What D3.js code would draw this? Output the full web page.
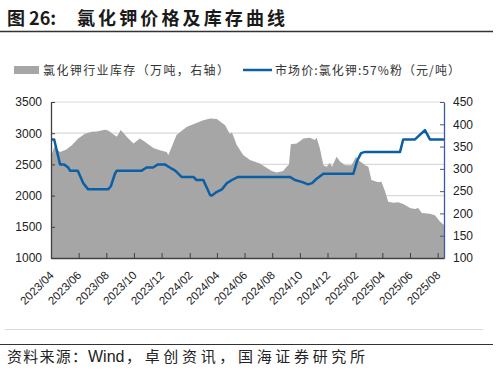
<!DOCTYPE html>
<html>
<head>
<meta charset="utf-8">
<script src="https://cdn.jsdelivr.net/npm/d3@7"></script>
<style>
  body { margin: 0; background: #fff; }
  svg { display: block; }
  text { font-family: "Liberation Sans", Arial, sans-serif; }
  .cjk { font-family: "Noto Sans CJK SC", sans-serif; }
</style>
</head>
<body>
<div id="chart"></div>
<script>
// 市场价:氯化钾:57%粉 (元/吨), left axis
const priceDates = ['2023-04-01','2023-04-08','2023-04-21','2023-04-30','2023-05-09','2023-05-13','2023-05-30','2023-06-02','2023-06-11','2023-06-22',
  '2023-08-05','2023-08-11','2023-08-20','2023-08-24','2023-10-18','2023-10-29','2023-11-12','2023-11-23','2023-12-08','2023-12-19',
  '2023-12-31','2024-01-14','2024-02-09','2024-02-16','2024-03-02','2024-03-17','2024-03-21','2024-04-01','2024-04-12','2024-04-23',
  '2024-05-04','2024-05-18','2024-09-09','2024-09-20','2024-10-05','2024-10-19','2024-10-28','2024-11-07','2024-11-22','2025-01-27',
  '2025-02-04','2025-02-13','2025-02-22','2025-05-10','2025-05-17','2025-06-12','2025-07-04','2025-07-15','2025-08-15'];
const priceValues = [2900,2900,2500,2500,2450,2400,2400,2350,2200,2100,
  2100,2150,2350,2400,2400,2450,2450,2500,2500,2450,
  2400,2300,2300,2250,2250,2010,2000,2060,2100,2200,
  2250,2300,2300,2250,2220,2180,2200,2270,2350,2350,
  2550,2680,2700,2700,2900,2900,3050,2900,2900];

// 氯化钾行业库存 (万吨), right axis
const stockDates = ['2023-04-01','2023-04-08','2023-04-21','2023-05-04','2023-05-17','2023-05-31','2023-06-15','2023-06-30','2023-07-11','2023-07-29',
  '2023-08-05','2023-08-24','2023-09-02','2023-09-15','2023-09-30','2023-10-14','2023-10-25','2023-11-13','2023-11-27','2023-12-12',
  '2023-12-16','2024-01-03','2024-01-25','2024-02-13','2024-03-02','2024-03-17','2024-04-01','2024-04-19','2024-04-26','2024-04-30',
  '2024-05-04','2024-05-15','2024-05-29','2024-06-13','2024-07-05','2024-07-16','2024-07-31','2024-08-11','2024-08-25','2024-09-02',
  '2024-09-07','2024-09-11','2024-09-24','2024-10-09','2024-10-23','2024-11-03','2024-11-07','2024-11-14','2024-11-22','2024-11-29',
  '2024-12-06','2024-12-11','2024-12-21','2024-12-29','2025-01-09','2025-01-23','2025-02-02','2025-02-07','2025-02-22','2025-03-01',
  '2025-03-08','2025-03-23','2025-03-30','2025-04-07','2025-04-14','2025-04-25','2025-05-06','2025-05-17','2025-06-01','2025-06-12',
  '2025-06-19','2025-06-27','2025-07-15','2025-07-26','2025-08-06','2025-08-15'];
const stockValues = [327,349,338,343,353,368,379,383,384,388,
  386,372,387,372,357,368,361,347,342,338,
  331,376,394,402,409,413,412,398,385,378,
  382,353,331,320,312,305,295,292,295,305,
  310,355,357,368,370,365,370,346,308,305,
  313,305,327,316,308,308,327,320,308,305,
  275,270,271,249,226,224,225,221,212,210,
  212,201,199,196,182,174];

const xTickLabels = ['2023/04','2023/06','2023/08','2023/10','2023/12','2024/02','2024/04','2024/06','2024/08','2024/10','2024/12','2025/02','2025/04','2025/06','2025/08'];
const leftTicks = [1000,1500,2000,2500,3000,3500];
const rightTicks = [100,150,200,250,300,350,400,450];

const W = 498, H = 372;
const plot = { left: 51, right: 444, top: 102, bottom: 258 };

const parseDay = d3.timeParse('%Y-%m-%d');
const parseMonth = d3.timeParse('%Y/%m');

const svg = d3.select('#chart').append('svg')
  .attr('width', W).attr('height', H);

const x = d3.scaleTime()
  .domain([parseDay('2023-04-01'), parseDay('2025-08-15')])
  .range([plot.left, plot.right]);
const yL = d3.scaleLinear().domain([1000, 3500]).range([plot.bottom, plot.top]);
const yR = d3.scaleLinear().domain([100, 450]).range([plot.bottom, plot.top]);

// 标题
svg.append('text')
  .attr('x', 7).attr('y', 25)
  .style('font-size', '18px').style('font-weight', 'bold').attr('fill', '#1a1a1a')
  .text('图 26:').attr('class', 'cjk');
svg.append('text').attr('class', 'cjk')
  .attr('x', 77).attr('y', 25)
  .style('font-size', '18px').style('font-weight', 'bold').attr('fill', '#1a1a1a')
  .attr('textLength', 208).attr('lengthAdjust', 'spacing')
  .text('氯化钾价格及库存曲线');
svg.append('line').attr('x1', 0).attr('x2', 493).attr('y1', 31.5).attr('y2', 31.5)
  .attr('stroke', '#333').attr('stroke-width', 1.3);

// 图例
svg.append('rect').attr('x', 14).attr('y', 66).attr('width', 25).attr('height', 8).attr('fill', '#a6a6a6');
svg.append('text').attr('class', 'cjk').attr('x', 43).attr('y', 74.5)
  .style('font-size', '12px').attr('fill', '#333')
  .attr('textLength', 186).attr('lengthAdjust', 'spacing')
  .text('氯化钾行业库存（万吨，右轴）');
svg.append('line').attr('x1', 243).attr('x2', 272).attr('y1', 70).attr('y2', 70)
  .attr('stroke', '#0b5fa5').attr('stroke-width', 2.5);
svg.append('text').attr('class', 'cjk').attr('x', 275).attr('y', 74.5)
  .style('font-size', '12px').attr('fill', '#333')
  .attr('textLength', 185).attr('lengthAdjust', 'spacing')
  .text('市场价:氯化钾:57%粉（元/吨）');

// 网格线
svg.append('g').selectAll('line')
  .data(leftTicks.slice(1))
  .enter().append('line')
  .attr('x1', plot.left).attr('x2', plot.right)
  .attr('y1', d => yL(d)).attr('y2', d => yL(d))
  .attr('stroke', '#d9d9d9').attr('stroke-width', 1.2);

// 库存面积
const stock = stockDates.map((d, i) => ({ date: parseDay(d), v: stockValues[i] }));
svg.append('path').datum(stock)
  .attr('fill', '#a6a6a6')
  .attr('d', d3.area().x(d => x(d.date)).y0(plot.bottom).y1(d => yR(d.v)));

// 价格线
const price = priceDates.map((d, i) => ({ date: parseDay(d), v: priceValues[i] }));
svg.append('path').datum(price)
  .attr('fill', 'none').attr('stroke', '#0b5fa5').attr('stroke-width', 2.5)
  .attr('stroke-linejoin', 'round')
  .attr('d', d3.line().x(d => x(d.date)).y(d => yL(d.v)));

// 左轴
const gL = svg.append('g').attr('transform', `translate(${plot.left},0)`)
  .call(d3.axisLeft(yL).tickValues(leftTicks).tickFormat(d3.format('d'))
    .tickSizeInner(-4).tickSizeOuter(0).tickPadding(9));
gL.select('.domain').attr('stroke', '#404040').attr('stroke-width', 1.3);
gL.selectAll('.tick line').attr('stroke', '#404040');
gL.selectAll('text').style('font-size', '12px').attr('fill', '#222')
  .attr('font-family', '"Liberation Sans", Arial, sans-serif');

// 右轴
const gR = svg.append('g').attr('transform', `translate(${plot.right},0)`)
  .call(d3.axisRight(yR).tickValues(rightTicks).tickFormat(d3.format('d'))
    .tickSizeInner(-4).tickSizeOuter(0).tickPadding(9));
gR.select('.domain').attr('stroke', '#3d5a99').attr('stroke-width', 1.3);
gR.selectAll('.tick line').attr('stroke', '#3d5a99');
gR.selectAll('text').style('font-size', '12px').attr('fill', '#222')
  .attr('font-family', '"Liberation Sans", Arial, sans-serif');

// 横轴
const tickDates = xTickLabels.map(parseMonth);
const gX = svg.append('g').attr('transform', `translate(0,${plot.bottom})`)
  .call(d3.axisBottom(x).tickValues(tickDates).tickSizeInner(-5).tickSizeOuter(0)
    .tickFormat((d, i) => xTickLabels[i]));
gX.select('.domain').attr('stroke', '#404040').attr('stroke-width', 1.3);
gX.selectAll('.tick line').attr('stroke', '#404040');
gX.selectAll('text')
  .style('font-size', '11.5px').attr('fill', '#222')
  .attr('font-family', '"Liberation Sans", Arial, sans-serif')
  .attr('text-anchor', 'end')
  .attr('dy', null).attr('y', 0)
  .attr('transform', 'translate(3,18) rotate(-45)');

// 底部
svg.append('line').attr('x1', 5).attr('x2', 483).attr('y1', 329.5).attr('y2', 329.5)
  .attr('stroke', '#d9d9d9').attr('stroke-width', 1);
svg.append('line').attr('x1', 0).attr('x2', 493).attr('y1', 344.5).attr('y2', 344.5)
  .attr('stroke', '#333').attr('stroke-width', 1.2);
const src = svg.append('g').style('font-size', '15px').attr('fill', '#222');
src.append('text').attr('class', 'cjk').attr('x', 7).attr('y', 362)
  .attr('textLength', 80).attr('lengthAdjust', 'spacing')
  .text('资料来源：');
src.append('text').attr('x', 88).attr('y', 362)
  .style('font-size', '16px')
  .text('Wind');
src.append('text').attr('class', 'cjk').attr('x', 126).attr('y', 362)
  .attr('textLength', 239).attr('lengthAdjust', 'spacing')
  .text('，卓创资讯，国海证券研究所');
</script>
</body>
</html>
